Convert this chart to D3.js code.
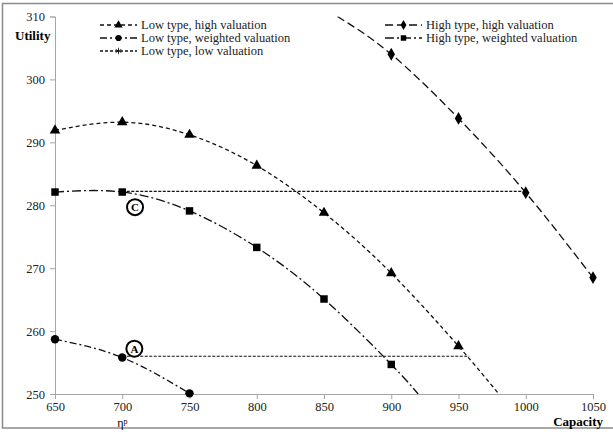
<!DOCTYPE html>
<html><head><meta charset="utf-8">
<script src="https://cdn.jsdelivr.net/npm/d3@7"></script>
<style>body{margin:0;background:#fff;}svg{display:block;font-family:"Liberation Serif","Times New Roman",serif;} svg text{font-family:"Liberation Serif","Times New Roman",serif !important;}</style>
</head><body><svg id="c" width="613" height="432"></svg>
<script>
// ---- data ----
const xTicks = [650,700,750,800,850,900,950,1000,1050];
const yTicks = [250,260,270,280,290,300,310];
const lowHighPts = [[650,291.9],[700,293.2],[750,291.2],[800,286.3],[850,278.8],[900,269.2],[950,257.6]];
const lowHighLine = [[650,291.9],[700,293.2],[750,291.2],[800,286.3],[850,278.8],[900,269.2],[950,257.6],[980,250]];
const lowWeightPts = [[650,258.7],[700,255.8],[750,250.1]];
const lowWeightLine = [[650,258.7],[700,255.8],[750,250.1]];
const highHighPts = [[900,304],[950,293.8],[1000,282],[1050,268.5]];
const highHighLine = [[860,310],[900,304],[950,293.8],[1000,282],[1050,268.5]];
const highWeightPts = [[650,282.1],[700,282.1],[750,279.1],[800,273.3],[850,265.1],[900,254.7]];
const highWeightLine = [[650,282.1],[700,282.1],[750,279.1],[800,273.3],[850,265.1],[900,254.7],[920,250]];
const hLines = [[700,1000,282.2],[700,958,256]];
const circLabels = [["C",709.5,279.7],["A",709,257.2]];
const legendNames = ["Low type, high valuation","Low type, weighted valuation","Low type, low valuation","High type, high valuation","High type, weighted valuation"];

const svg = d3.select("#c");
svg.append("rect").attr("x",2.5).attr("y",3.5).attr("width",620).attr("height",424.5)
  .attr("fill","none").attr("stroke","#8a8a8a").attr("stroke-width",1.5);

const x = d3.scaleLinear().domain([650,1050]).range([55,593]);
const y = d3.scaleLinear().domain([250,310]).range([394,16.5]);

// axes
const gx = svg.append("g").attr("transform","translate(0,394)")
  .call(d3.axisBottom(x).tickValues(xTicks).tickSize(5).tickPadding(3).tickFormat(d3.format("d")));
const gy = svg.append("g").attr("transform","translate(55,0)")
  .call(d3.axisLeft(y).tickValues(yTicks).tickSize(5).tickPadding(5).tickFormat(d3.format("d")));
[gx,gy].forEach(g=>{
  g.select(".domain").attr("stroke","#a6a6a6");
  g.selectAll(".tick line").attr("stroke","#a6a6a6");
  g.selectAll(".tick text").attr("fill","#222").style("font-size","12.5px");
});

svg.append("defs").append("clipPath").attr("id","clip").append("rect")
  .attr("x",55).attr("y",16.5).attr("width",540).attr("height",377.5);
const plot = svg.append("g").attr("clip-path","url(#clip)");

const line = d3.line().x(d=>x(d[0])).y(d=>y(d[1])).curve(d3.curveNatural);

const styles = {
  lowHigh:"4,3",
  lowWeight:"7,3,2,3",
  lowLow:"3,2",
  highHigh:"8,4",
  highWeight:"9,3,2,3"
};

// horizontal reference lines
hLines.forEach(h=>{
  plot.append("line").attr("x1",x(h[0])).attr("x2",x(h[1])).attr("y1",y(h[2])).attr("y2",y(h[2]))
    .attr("stroke","#111").attr("stroke-width",1.2).attr("stroke-dasharray","3,1.5");
});

function drawLine(data,dash){
  plot.append("path").attr("d",line(data)).attr("fill","none").attr("stroke","#111")
    .attr("stroke-width",1.3).attr("stroke-dasharray",dash);
}
drawLine(lowHighLine,styles.lowHigh);
drawLine(lowWeightLine,styles.lowWeight);
drawLine(highHighLine,styles.highHigh);
drawLine(highWeightLine,styles.highWeight);

const sym = {
  tri: d3.symbol().type(d3.symbolTriangle).size(48),
  circ: d3.symbol().type(d3.symbolCircle).size(56),
  sq: d3.symbol().type(d3.symbolSquare).size(56),
  dia: d3.symbol().type(d3.symbolDiamond).size(48),
  star: d3.symbol().type(d3.symbolAsterisk).size(40)
};
function drawPts(data,s){
  svg.append("g").selectAll("path").data(data).join("path")
    .attr("transform",d=>`translate(${x(d[0])},${y(d[1])})`).attr("d",s).attr("fill","#000");
}
drawPts(lowHighPts,sym.tri);
drawPts(lowWeightPts,sym.circ);
drawPts(highHighPts,sym.dia);
drawPts(highWeightPts,sym.sq);

// circled labels
circLabels.forEach(c=>{
  const g = svg.append("g").attr("transform",`translate(${x(c[1])},${y(c[2])})`);
  g.append("circle").attr("r",8).attr("fill","#fff").attr("stroke","#000").attr("stroke-width",2);
  g.append("text").attr("text-anchor","middle").attr("dy","0.35em").style("font-size","11px")
    .style("font-weight","bold").text(c[0]);
});

// axis titles
svg.append("text").attr("x",15).attr("y",40).style("font-size","13px").style("font-weight","bold").text("Utility");
svg.append("text").attr("x",603).attr("y",425.5).attr("text-anchor","end").style("font-size","13px").style("font-weight","bold").text("Capacity");
const eta = svg.append("text").attr("x",x(700)-5).attr("y",427).style("font-size","12px");
eta.append("tspan").text("η");
eta.append("tspan").attr("dy",-3.5).style("font-size","8px").text("p");

// legend
const legItems = [
  {name:legendNames[0],dash:styles.lowHigh,sym:sym.tri,x:100,y:25},
  {name:legendNames[1],dash:styles.lowWeight,sym:sym.circ,x:100,y:38},
  {name:legendNames[2],dash:styles.lowLow,sym:sym.star,x:100,y:51},
  {name:legendNames[3],dash:styles.highHigh,sym:sym.dia,x:385,y:25},
  {name:legendNames[4],dash:styles.highWeight,sym:sym.sq,x:385,y:38}
];
legItems.forEach(l=>{
  const g = svg.append("g").attr("transform",`translate(${l.x},${l.y})`);
  g.append("line").attr("x1",0).attr("x2",37).attr("stroke","#111").attr("stroke-width",1.3).attr("stroke-dasharray",l.dash);
  g.append("path").attr("transform","translate(18.5,0)").attr("d",l.sym.size(30)).attr("fill","#000")
    .attr("stroke",l.sym===sym.star?"#000":"none").attr("stroke-width",0.8);
  g.append("text").attr("x",41).attr("dy","0.35em").style("font-size","12.5px").attr("fill","#222").text(l.name);
});
</script></body></html>
